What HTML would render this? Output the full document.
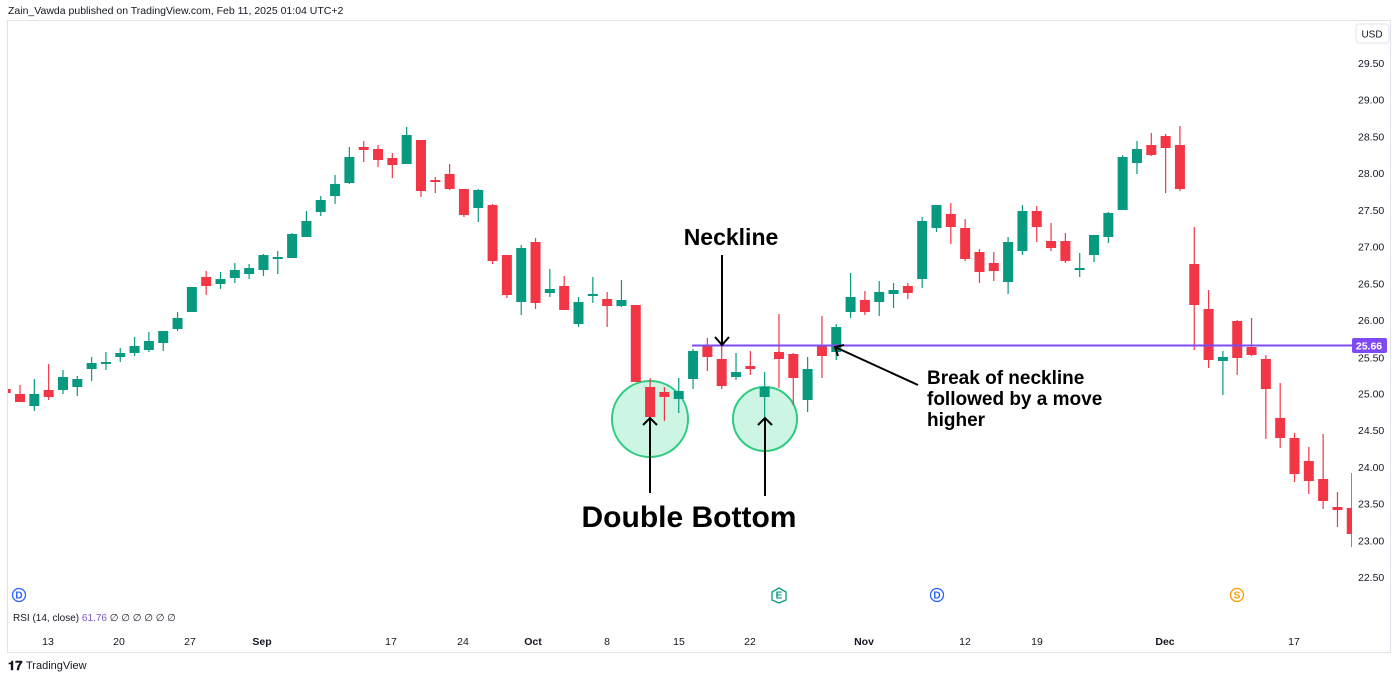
<!DOCTYPE html>
<html><head><meta charset="utf-8"><style>
html,body{margin:0;padding:0;background:#fff;width:1400px;height:679px;overflow:hidden;font-family:"Liberation Sans",sans-serif}
svg{display:block}
</style></head><body>
<svg id="s" width="1400" height="679" xmlns="http://www.w3.org/2000/svg" font-family="Liberation Sans, sans-serif">
<defs><clipPath id="pc"><rect x="8" y="21" width="1344" height="600"/></clipPath></defs>
<rect x="7.5" y="20.5" width="1383" height="632" fill="#fff" stroke="#e0e3eb"/>
<text x="8" y="14" font-size="10.5" fill="#131722">Zain_Vawda published on TradingView.com, Feb 11, 2025 01:04 UTC+2</text>
<rect x="1356" y="24" width="33" height="19" rx="3" fill="#fff" stroke="#e0e3eb"/>
<text x="1372" y="37.5" font-size="10" fill="#131722" text-anchor="middle">USD</text>
<g id="ax" font-size="10.5" fill="#131722"></g>
<circle cx="650" cy="419" r="38" fill="#cdf5e4" stroke="#2ecc80" stroke-width="2"/>
<circle cx="765" cy="419" r="32" fill="#cdf5e4" stroke="#2ecc80" stroke-width="2"/>
<g id="c" clip-path="url(#pc)"></g>
<line x1="692" y1="345.5" x2="1352" y2="345.5" stroke="#7e4af5" stroke-width="2"/>
<rect x="1352" y="338" width="35" height="15" rx="2" fill="#7e4af5"/>
<text x="1369" y="349.5" font-size="10.5" fill="#fff" text-anchor="middle" font-weight="bold">25.66</text>
<g stroke="#000" stroke-width="2" fill="none">
<line x1="722" y1="255" x2="722" y2="345"/><polyline points="715,337 722,345 729,337"/>
<line x1="650" y1="493" x2="650" y2="418"/><polyline points="643,425 650,418 657,425"/>
<line x1="765" y1="496" x2="765" y2="418"/><polyline points="758,425 765,418 772,425"/>
<line x1="918" y1="385" x2="835" y2="347"/><polyline points="838,356 835,347 844,345"/>
</g>
<text x="731" y="245" font-size="23" font-weight="bold" text-anchor="middle" fill="#000">Neckline</text>
<text x="689" y="527" font-size="30" font-weight="bold" text-anchor="middle" fill="#000">Double Bottom</text>
<g font-size="19" font-weight="bold" fill="#000">
<text x="927" y="384">Break of neckline</text>
<text x="927" y="405">followed by a move</text>
<text x="927" y="426">higher</text>
</g>
<g font-size="10" font-weight="bold" text-anchor="middle">
<circle cx="19" cy="595" r="6.5" fill="#fff" stroke="#2962ff" stroke-width="1.3"/><text x="19" y="598.5" fill="#2962ff">D</text>
<circle cx="937" cy="595" r="6.5" fill="#fff" stroke="#2962ff" stroke-width="1.3"/><text x="937" y="598.5" fill="#2962ff">D</text>
<circle cx="1237" cy="595" r="6.5" fill="#fff" stroke="#ff9800" stroke-width="1.3"/><text x="1237" y="598.5" fill="#ff9800">S</text>
<polygon points="779,588 786,592 786,600 779,603 772,600 772,592" fill="#fff" stroke="#089981" stroke-width="1.3"/><text x="779" y="598.5" fill="#089981">E</text>
</g>
<text x="13" y="621" font-size="10" fill="#131722">RSI (14, close) <tspan fill="#7e57c2">61.76</tspan>  ∅ ∅ ∅ ∅ ∅ ∅</text>
<g font-size="13" font-weight="bold" fill="#131722"><text x="8" y="670">𝟏𝟕</text></g>
<text x="26" y="669" font-size="11" fill="#131722">TradingView</text>
</svg>
<script>
var d=[
[389,389,393,393,0],[385,394,402,402,0],[379,394,406,411,1],[364,390,397,400,0],[370,377,390,394,1],[376,379,387,396,1],[357,363,369,381,1],[352,362,364,370,1],[348,353,357,362,1],[337,346,353,356,1],[332,341,350,352,1],[331,331,343,351,1],[312,318,329,331,1],[287,287,312,312,1],[271,277,286,295,0],[272,279,284,289,1],[263,270,278,283,1],[264,268,274,279,1],[254,255,270,276,1],[251,257,259,274,1],[233,234,258,258,1],[211,221,237,237,1],[196,200,212,216,1],[175,184,196,204,1],[147,157,183,184,1],[141,147,150,162,0],[145,149,160,167,0],[153,158,165,178,0],[127,135,164,164,1],[140,140,191,197,0],[177,180,182,193,0],[164,174,189,190,0],[189,189,215,217,0],[189,190,208,222,1],[204,205,261,264,0],[255,255,295,298,0],[245,248,302,315,1],[238,242,303,309,0],[269,289,293,297,1],[276,286,310,310,0],[297,302,324,327,1],[277,294,295,303,1],[292,299,306,327,0],[280,300,306,307,1],[305,305,382,382,0],[378,387,417,417,0],[387,392,397,421,0],[378,391,399,413,1],[349,351,379,389,1],[338,346,357,371,0],[340,359,386,389,0],[353,372,377,380,1],[351,366,369,375,0],[372,387,397,417,1],[314,352,359,388,0],[353,354,378,405,0],[357,369,400,412,1],[316,346,356,378,0],[324,327,352,360,1],[273,297,312,318,1],[291,300,312,315,0],[281,292,302,316,1],[283,290,294,308,1],[283,286,293,299,0],[217,221,279,288,1],[205,205,228,232,1],[203,214,227,244,0],[219,228,259,261,0],[249,252,272,283,0],[252,263,271,281,0],[237,242,282,294,1],[205,211,251,255,1],[206,211,227,242,0],[223,241,248,251,0],[233,241,261,263,0],[253,268,270,277,1],[235,235,255,262,1],[212,213,237,243,1],[155,157,210,210,1],[141,149,163,174,1],[133,145,155,156,0],[134,136,148,193,0],[126,145,189,191,0],[227,264,305,350,0],[290,309,360,368,0],[351,357,361,395,1],[320,321,358,375,0],[318,347,355,356,0],[355,359,389,439,0],[383,418,438,448,0],[433,438,474,482,0],[447,461,481,494,0],[434,479,501,509,0],[492,507,510,527,0],[473,508,534,547,0]];
var g=document.getElementById('c'),h='';
d.forEach(function(c,i){var x=5.7+i*14.32,col=c[4]?'#089981':'#f23645';
h+='<line x1="'+x+'" x2="'+x+'" y1="'+c[0]+'" y2="'+c[3]+'" stroke="'+col+'" stroke-width="1.2"/>';
h+='<rect x="'+(x-5)+'" y="'+c[1]+'" width="10" height="'+Math.max(2,c[2]-c[1])+'" fill="'+col+'"/>';});
g.innerHTML=h;
var a='',p=[29.5,29,28.5,28,27.5,27,26.5,26,25.5,25,24.5,24,23.5,23,22.5];
p.forEach(function(v){var y=63+(29.5-v)*73.43;if(Math.abs(v-25.5)<.01)y+=1;a+='<text x="1358" y="'+(y+4)+'">'+v.toFixed(2)+'</text>';});
var xl=[[48,'13'],[119,'20'],[190,'27'],[262,'Sep'],[391,'17'],[463,'24'],[533,'Oct'],[607,'8'],[679,'15'],[750,'22'],[864,'Nov'],[965,'12'],[1037,'19'],[1165,'Dec'],[1294,'17']];
xl.forEach(function(l){a+='<text x="'+l[0]+'" y="645" text-anchor="middle"'+(isNaN(l[1])?' font-weight="bold"':'')+'>'+l[1]+'</text>';});
document.getElementById('ax').innerHTML=a;
</script>
</body></html>
